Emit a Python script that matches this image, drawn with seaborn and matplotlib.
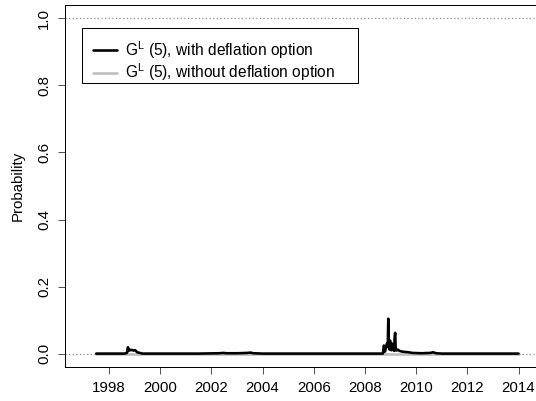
"""Probability of deflation regime, with and without deflation option."""

import numpy as np
import pandas as pd
import matplotlib
matplotlib.use('Agg')
import matplotlib.pyplot as plt
from matplotlib.patches import Rectangle
import seaborn as sns

# decimal-year dates and probabilities
dates_with = [1997.50, 1998.60, 1998.70, 1998.74, 1998.76, 1998.80, 1998.84,
              1998.90, 1998.96, 1999.02, 1999.10, 1999.20, 1999.30, 2001.50,
              2002.30, 2002.45, 2002.60, 2003.00, 2003.40, 2003.52, 2003.65,
              2004.00, 2008.70, 2008.74, 2008.78, 2008.82, 2008.86, 2008.89,
              2008.91, 2008.93, 2008.96, 2008.98, 2009.00, 2009.03, 2009.06,
              2009.10, 2009.14, 2009.16, 2009.18, 2009.20, 2009.23, 2009.28,
              2009.35, 2009.45, 2009.55, 2009.70, 2009.85, 2010.20, 2010.55,
              2010.66, 2010.78, 2011.00, 2014.00]
prob_with = [0.000, 0.000, 0.002, 0.019, 0.008, 0.012, 0.010,
             0.011, 0.009, 0.010, 0.004, 0.002, 0.000, 0.000,
             0.001, 0.002, 0.001, 0.001, 0.002, 0.003, 0.001,
             0.000, 0.000, 0.024, 0.006, 0.018, 0.030, 0.020,
             0.104, 0.020, 0.012, 0.039, 0.015, 0.010, 0.030,
             0.012, 0.008, 0.050, 0.062, 0.014, 0.009, 0.012,
             0.008, 0.006, 0.005, 0.004, 0.002, 0.001, 0.002,
             0.004, 0.001, 0.000, 0.000]

# the series without the deflation option stays at zero (hidden under black)
dates_without = [1997.50, 2003.00, 2008.90, 2014.00]
prob_without = [0.000, 0.000, 0.000, 0.000]

labels = [r'G$^{\mathrm{L}}$ (5), with deflation option',
          r'G$^{\mathrm{L}}$ (5), without deflation option']
year_ticks = list(range(1998, 2015, 2))
prob_ticks = [0.0, 0.2, 0.4, 0.6, 0.8, 1.0]

df = pd.concat([
    pd.DataFrame({'date': dates_without, 'prob': prob_without, 'series': labels[1]}),
    pd.DataFrame({'date': dates_with, 'prob': prob_with, 'series': labels[0]}),
])

sns.set_theme(style='white')
plt.rcParams['font.family'] = ['Liberation Sans', 'DejaVu Sans']
plt.rcParams['mathtext.fontset'] = 'custom'
plt.rcParams['mathtext.rm'] = 'Liberation Sans'

FS = 15
W, H = 536, 401
fig = plt.figure(figsize=(W / 72, H / 72), dpi=72)
ax = fig.add_axes([65 / W, 34 / H, 473 / W, 362 / H])

sns.lineplot(data=df, x='date', y='prob', hue='series',
             hue_order=[labels[1], labels[0]],
             palette={labels[0]: 'black', labels[1]: '#bebebe'},
             linewidth=2.6, estimator=None, sort=False, ax=ax, legend=False)

ax.axhline(0, color='#888888', linestyle=(0, (1, 2)), linewidth=1.2, zorder=0)
ax.axhline(1, color='#888888', linestyle=(0, (1, 2)), linewidth=1.2, zorder=0)

ax.set_xlim(1996.28, 2014.76)
ax.set_ylim(-0.04, 1.04)
ax.set_xticks(year_ticks)
ax.set_xticklabels([str(y) for y in year_ticks])
ax.set_yticks(prob_ticks)
ax.set_yticklabels([f'{p:.1f}' for p in prob_ticks], rotation=90, va='center')
ax.tick_params(direction='out', length=7, width=1, color='#555555',
               labelsize=FS, labelcolor='black', pad=7, bottom=True, left=True)
ax.set_xlabel('')
ax.set_ylabel('Probability', fontsize=FS, color='black', labelpad=12)
for sp in ax.spines.values():
    sp.set_color('black')
    sp.set_linewidth(1)

# legend entries without frame, box drawn separately (R style padding)
handles = [plt.Line2D([], [], color='black', lw=2.6),
           plt.Line2D([], [], color='#bebebe', lw=2.6)]
leg = ax.legend(handles, labels, loc='upper left',
                bbox_to_anchor=(93 / W, 1 - 39 / H), bbox_transform=fig.transFigure,
                borderaxespad=0, borderpad=0, fontsize=15.5, frameon=False,
                handlelength=1.55, handletextpad=0.5, labelspacing=0.05)
for t in leg.get_texts():
    t.set_color('black')
ax.add_patch(Rectangle((82 / W, 1 - 83 / H), 276 / W, 55 / H,
                       transform=fig.transFigure, fill=False,
                       edgecolor='black', linewidth=1, clip_on=False, zorder=5))

fig.savefig('out.png', dpi=72)
